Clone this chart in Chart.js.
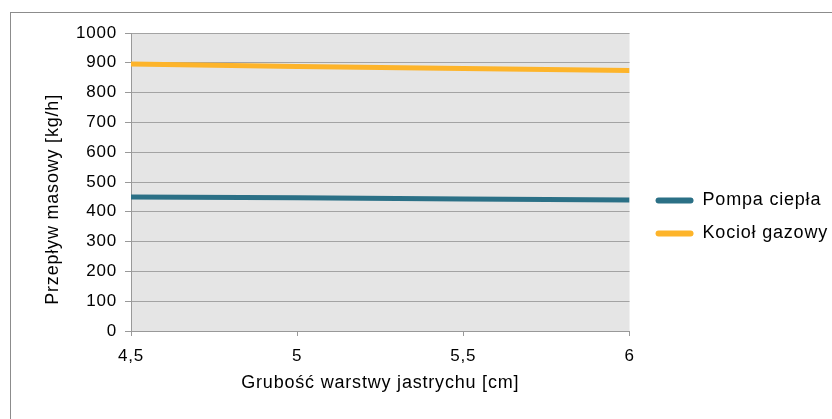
<!DOCTYPE html>
<html>
<head>
<meta charset="utf-8">
<script src="https://cdn.jsdelivr.net/npm/chart.js@4.4.1/dist/chart.umd.min.js"></script>
<style>
  html, body { margin: 0; padding: 0; background: #fff; }
  #wrap { position: relative; width: 832px; height: 419px; overflow: hidden; }
  #frame { position: absolute; left: 10px; top: 12px; width: 900px; height: 500px; border: 1px solid #8c8c8c; }
  #chart { position: absolute; left: 0; top: 0; }
</style>
</head>
<body>
<div id="wrap">
  <div id="frame"></div>
  <canvas id="chart" width="832" height="419"></canvas>
</div>
<script>
// grubość warstwy jastrychu [cm]
const thickness = [4.5, 5, 5.5, 6];
// przepływ masowy [kg/h]
const pompaCiepla = [450, 447, 443, 440];
const kociolGazowy = [896, 888, 881, 874];

const xTickValues = [4.5, 5, 5.5, 6];
const yTickValues = [0, 100, 200, 300, 400, 500, 600, 700, 800, 900, 1000];

const FONT = 'Liberation Sans, Arial, sans-serif';
const TEAL = '#2b7086';
const AMBER = '#fdb42a';

const toPoints = (ys) => thickness.map((x, i) => ({ x, y: ys[i] }));
const comma = (v) => String(v).replace('.', ',');

// the original text is rendered with a bit of extra tracking
const tracking = {
  id: 'tracking',
  beforeUpdate: (chart) => { chart.ctx.letterSpacing = '0.8px'; },
  beforeDraw: (chart) => { chart.ctx.letterSpacing = '0.8px'; },
};

const plotBg = {
  id: 'plotBg',
  beforeDraw: (chart) => {
    const { ctx, chartArea: a } = chart;
    ctx.save();
    ctx.fillStyle = '#e5e5e5';
    ctx.fillRect(a.left, a.top, a.right - a.left, a.bottom - a.top);
    ctx.restore();
  },
};

// move the legend block to where the spreadsheet put it
const legendNudge = {
  id: 'legendNudge',
  afterLayout: (chart) => {
    const lg = chart.legend;
    if (!lg) return;
    lg.left += 11; lg.right += 11;
    lg.top -= 9; lg.bottom -= 9;
  },
};

new Chart(document.getElementById('chart'), {
  type: 'line',
  data: {
    datasets: [
      {
        label: 'Pompa ciepła',
        data: toPoints(pompaCiepla),
        borderColor: TEAL,
        backgroundColor: TEAL,
        borderWidth: 5,
        pointRadius: 0,
        tension: 0,
      },
      {
        label: 'Kocioł gazowy',
        data: toPoints(kociolGazowy),
        borderColor: AMBER,
        backgroundColor: AMBER,
        borderWidth: 5,
        pointRadius: 0,
        tension: 0,
      },
    ],
  },
  options: {
    responsive: false,
    animation: false,
    layout: { padding: { top: 33, left: 0, bottom: 0, right: 5 } },
    plugins: {
      tooltip: { enabled: false },
      legend: {
        position: 'right',
        labels: {
          boxWidth: 38,
          boxHeight: 6,
          padding: 15,
          useBorderRadius: true,
          borderRadius: 3,
          color: '#000',
          font: { family: FONT, size: 18 },
          generateLabels: (chart) => chart.data.datasets.map((ds, i) => ({
            text: ds.label,
            fillStyle: ds.borderColor,
            strokeStyle: ds.borderColor,
            lineWidth: 0,
            borderRadius: 3,
            fontColor: '#000',
            datasetIndex: i,
            hidden: false,
          })),
        },
      },
    },
    scales: {
      x: {
        type: 'linear',
        min: 4.5,
        max: 6,
        afterBuildTicks: (s) => { s.ticks = xTickValues.map((v) => ({ value: v })); },
        afterFit: (s) => { s.height = 88; },
        ticks: {
          padding: 10,
          color: '#000',
          font: { family: FONT, size: 17 },
          callback: (v) => comma(v),
        },
        grid: { drawOnChartArea: false, drawTicks: true, tickLength: 5, color: '#999' },
        border: { color: '#999' },
        title: {
          display: true,
          text: 'Grubość warstwy jastrychu [cm]',
          color: '#000',
          font: { family: FONT, size: 18 },
          padding: { top: 0, bottom: 25 },
        },
      },
      y: {
        min: 0,
        max: 1000,
        afterBuildTicks: (s) => { s.ticks = yTickValues.map((v) => ({ value: v })); },
        afterFit: (s) => { s.width = 131; },
        ticks: {
          padding: 8,
          color: '#000',
          font: { family: FONT, size: 17 },
          callback: (v) => String(v),
        },
        grid: { color: '#a3a3a3', tickLength: 6, tickColor: '#999' },
        border: { color: '#999' },
        title: {
          display: true,
          text: 'Przepływ masowy [kg/h]      ',
          color: '#000',
          font: { family: FONT, size: 18 },
          padding: { top: 42, bottom: 0 },
        },
      },
    },
  },
  plugins: [tracking, plotBg, legendNudge],
});
</script>
</body>
</html>
